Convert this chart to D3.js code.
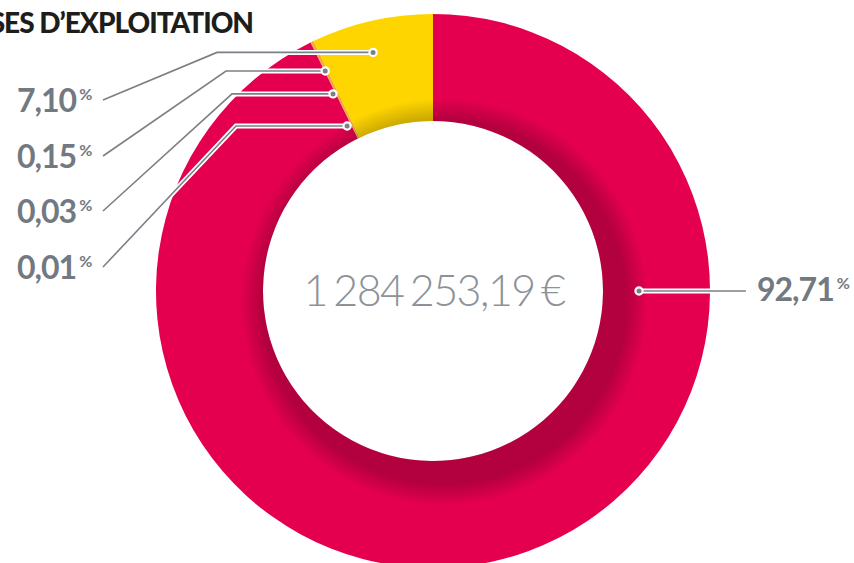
<!DOCTYPE html>
<html>
<head>
<meta charset="utf-8">
<script src="https://cdn.jsdelivr.net/npm/d3@7"></script>
<style>
  html, body { margin: 0; padding: 0; background: #fff; }
  svg { display: block; font-family: Lato, "Open Sans", sans-serif; }
</style>
</head>
<body>
<div id="chart"></div>
<script>
// chart values
const categories = ['a', 'b', 'c', 'd', 'e'];
const shares = [92.71, 0.01, 0.03, 0.15, 7.10];
const shareLabels = ['92,71', '0,01', '0,03', '0,15', '7,10'];
const sliceColors = ['#e5004f', '#ee3d43', '#f17436', '#f6a92a', '#ffd500'];
const totalLabel = '1 284 253,19 €';
const title = 'SES D’EXPLOITATION';

const width = 854, height = 563;
const cx = 433, cy = 291;
const outerR = 277, innerR = 170;

const svg = d3.select('#chart').append('svg')
  .attr('width', width)
  .attr('height', height);

const defs = svg.append('defs');

// donut, clockwise from 12 o'clock
const pie = d3.pie().sort(null).value(d => d);
const arcs = pie(shares);
const arc = d3.arc().innerRadius(innerR).outerRadius(outerR);

const ring = svg.append('g').attr('transform', `translate(${cx},${cy})`);
ring.selectAll('path.slice')
  .data(arcs)
  .join('path')
  .attr('class', 'slice')
  .attr('d', arc)
  .attr('fill', (d, i) => sliceColors[i]);

// inner shadow, a soft circle offset down-right, clipped to the ring
defs.append('clipPath').attr('id', 'ring-clip')
  .append('path')
  .attr('transform', `translate(${cx},${cy})`)
  .attr('d', d3.arc()({ innerRadius: innerR, outerRadius: outerR, startAngle: 0, endAngle: 2 * Math.PI }));

const grad = defs.append('radialGradient')
  .attr('id', 'shade')
  .attr('gradientUnits', 'userSpaceOnUse')
  .attr('cx', cx + 11).attr('cy', cy + 11).attr('r', 204);
grad.append('stop').attr('offset', 0).attr('stop-color', '#000').attr('stop-opacity', 0.22);
grad.append('stop').attr('offset', 0.89).attr('stop-color', '#000').attr('stop-opacity', 0.22);
grad.append('stop').attr('offset', 1).attr('stop-color', '#000').attr('stop-opacity', 0);

svg.append('circle')
  .attr('clip-path', 'url(#ring-clip)')
  .attr('cx', cx + 11).attr('cy', cy + 11).attr('r', 204)
  .attr('fill', 'url(#shade)');

// leader layout: anchor on the ring (deg, radius), elbow x, label position
const leaders = [
  { angle: 90, r: 206, elbowX: null, labelX: 757, labelY: 301, side: 'right' },
  { angle: -27.5, r: 186, elbowX: 236, labelX: 17, labelY: 279, side: 'left' },
  { angle: -26.9, r: 221, elbowX: 232, labelX: 17, labelY: 223, side: 'left' },
  { angle: -26.1, r: 245, elbowX: 226, labelX: 17, labelY: 168, side: 'left' },
  { angle: -14.1, r: 246, elbowX: 217, labelX: 17, labelY: 112, side: 'left' }
];

function anchor(l) {
  const a = l.angle * Math.PI / 180;
  return [cx + l.r * Math.sin(a), cy - l.r * Math.cos(a)];
}

function leaderPoints(l) {
  const [ax, ay] = anchor(l);
  if (l.side === 'right') return [[ax, ay], [l.labelX - 11, ay]];
  return [[ax, ay], [l.elbowX, ay], [l.labelX + 86, l.labelY - 12]];
}

const line = d3.line();
const lead = svg.append('g').attr('class', 'leaders');

lead.selectAll('path.halo')
  .data(leaders)
  .join('path')
  .attr('class', 'halo')
  .attr('d', d => line(leaderPoints(d)))
  .attr('fill', 'none')
  .attr('stroke', '#fff')
  .attr('stroke-width', 5);

lead.selectAll('path.lead')
  .data(leaders)
  .join('path')
  .attr('class', 'lead')
  .attr('d', d => line(leaderPoints(d)))
  .attr('fill', 'none')
  .attr('stroke', '#7b8086')
  .attr('stroke-width', 1.6);

lead.selectAll('circle.dot')
  .data(leaders)
  .join('circle')
  .attr('class', 'dot')
  .attr('cx', d => anchor(d)[0])
  .attr('cy', d => anchor(d)[1])
  .attr('r', 3.6)
  .attr('fill', '#7b8086')
  .attr('stroke', '#fff')
  .attr('stroke-width', 2.2);

// percentage labels
const labels = svg.append('g').attr('class', 'labels')
  .selectAll('text')
  .data(leaders)
  .join('text')
  .attr('x', d => d.labelX)
  .attr('y', d => d.labelY)
  .attr('fill', '#737980')
  .attr('font-weight', 700)
  .attr('font-size', 32)
  .attr('letter-spacing', -1);

labels.append('tspan').text((d, i) => shareLabels[i]);
labels.append('tspan')
  .attr('dx', 3)
  .attr('dy', -12)
  .attr('font-size', 16)
  .attr('letter-spacing', 0)
  .text('%');

// total in the hole
svg.append('text')
  .attr('x', cx + 1)
  .attr('y', 306)
  .attr('text-anchor', 'middle')
  .attr('fill', '#8c9298')
  .attr('font-weight', 300)
  .attr('font-size', 43)
  .attr('letter-spacing', -1.5)
  .attr('word-spacing', -4)
  .text(totalLabel);

// title, cut at the left edge
svg.append('text')
  .attr('x', 253)
  .attr('y', 33)
  .attr('text-anchor', 'end')
  .attr('fill', '#1d1d1b')
  .attr('font-weight', 900)
  .attr('font-size', 28)
  .attr('letter-spacing', -1)
  .text(title);
</script>
</body>
</html>
